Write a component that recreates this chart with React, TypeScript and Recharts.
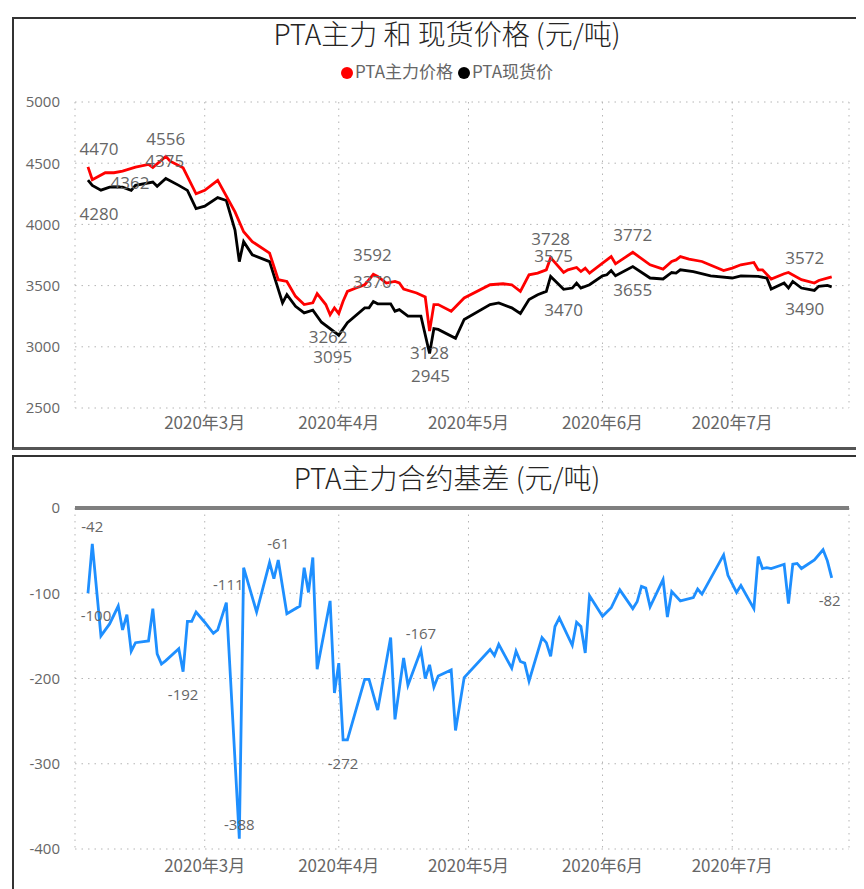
import { CartesianGrid, Line, LineChart, ReferenceLine, XAxis, YAxis } from 'recharts';

// day number counted from 2020-01-01 (= 0)
const MONTH_START: Record<number, number> = { 2: 31, 3: 60, 4: 91, 5: 121, 6: 152, 7: 182 };
const dayOf = (md: string) => {
  const [m, d] = md.split('-').map(Number);
  return MONTH_START[m] + d - 1;
};

const monthTickDates = ['3-01', '4-01', '5-01', '6-01', '7-01'];
const monthLabels = ['2020年3月', '2020年4月', '2020年5月', '2020年6月', '2020年7月'];
const priceTicks = [2500, 3000, 3500, 4000, 4500, 5000];
const basisTicks = [-400, -300, -200, -100, 0];

const futuresDates = [
  '2-03', '2-04', '2-07', '2-09', '2-11', '2-14', '2-17', '2-18', '2-21', '2-22', '2-25', '2-28',
  '3-01', '3-04', '3-08', '3-10', '3-12', '3-16', '3-18', '3-20', '3-22', '3-24', '3-26', '3-27',
  '3-29', '3-30', '3-31', '4-01', '4-02', '4-03', '4-05', '4-07', '4-08', '4-09', '4-10', '4-12',
  '4-14', '4-15', '4-16', '4-19', '4-21', '4-22', '4-23', '4-24', '4-27', '4-30', '5-06', '5-09',
  '5-11', '5-13', '5-15', '5-17', '5-19', '5-20', '5-23', '5-24', '5-26', '5-27', '5-28', '5-29',
  '6-01', '6-02', '6-03', '6-04', '6-08', '6-12', '6-15', '6-17', '6-18', '6-19', '6-21', '6-24',
  '6-29', '7-01', '7-03', '7-06', '7-07', '7-08', '7-10', '7-13', '7-14', '7-17', '7-20', '7-21',
  '7-24',
];
const futuresValues = [
  4470, 4365, 4422, 4422, 4435, 4468, 4490, 4465, 4556, 4516, 4462, 4250,
  4278, 4360, 4102, 3940, 3859, 3765, 3548, 3534, 3412, 3345, 3359, 3434,
  3345, 3262, 3318, 3272, 3372, 3453, 3480, 3507, 3548, 3592, 3575, 3521,
  3534, 3521, 3472, 3440, 3407, 3128, 3345, 3345, 3291, 3399, 3507, 3515,
  3507, 3453, 3588, 3602, 3629, 3728, 3607, 3629, 3648, 3615, 3643, 3602,
  3683, 3710, 3737, 3678, 3772, 3670, 3635, 3697, 3710, 3737, 3716, 3697,
  3623, 3643, 3670, 3689, 3629, 3629, 3554, 3597, 3607, 3548, 3521, 3542,
  3572,
];

const spotDates = [
  '2-03', '2-04', '2-06', '2-08', '2-11', '2-13', '2-14', '2-18', '2-19', '2-21', '2-24', '2-26',
  '2-28', '3-01', '3-04', '3-06', '3-08', '3-09', '3-10', '3-12', '3-16', '3-19', '3-20', '3-22',
  '3-24', '3-26', '3-28', '4-01', '4-03', '4-07', '4-08', '4-09', '4-10', '4-13', '4-14', '4-15',
  '4-17', '4-20', '4-22', '4-23', '4-24', '4-28', '4-30', '5-06', '5-08', '5-11', '5-13', '5-15',
  '5-17', '5-19', '5-20', '5-23', '5-25', '5-26', '5-27', '5-29', '6-01', '6-02', '6-03', '6-04',
  '6-08', '6-12', '6-15', '6-17', '6-18', '6-19', '6-22', '6-26', '7-01', '7-03', '7-07', '7-09',
  '7-10', '7-13', '7-14', '7-15', '7-17', '7-20', '7-21', '7-23', '7-24',
];
const spotValues = [
  4362, 4319, 4280, 4305, 4305, 4278, 4319, 4346, 4311, 4375, 4319, 4278,
  4130, 4149, 4219, 4195, 3954, 3696, 3859, 3751, 3696, 3359, 3426, 3331,
  3277, 3299, 3201, 3095, 3196, 3318, 3318, 3370, 3351, 3351, 3291, 3304,
  3250, 3250, 2945, 3148, 3142, 3069, 3223, 3345, 3359, 3318, 3272, 3386,
  3426, 3453, 3575, 3470, 3480, 3521, 3480, 3507, 3580, 3588, 3623, 3580,
  3655, 3562, 3554, 3607, 3602, 3629, 3615, 3580, 3562, 3580, 3575, 3562,
  3472, 3521, 3480, 3534, 3480, 3461, 3494, 3501, 3490,
];

const basisDates = [
  '2-03', '2-04', '2-06', '2-08', '2-10', '2-11', '2-12', '2-13', '2-14', '2-17', '2-18', '2-19',
  '2-20', '2-21', '2-24', '2-25', '2-26', '2-27', '2-28', '3-01', '3-03', '3-04', '3-06', '3-09',
  '3-10', '3-13', '3-16', '3-17', '3-18', '3-20', '3-23', '3-24', '3-25', '3-26', '3-27', '3-30',
  '3-31', '4-01', '4-02', '4-03', '4-07', '4-08', '4-10', '4-13', '4-14', '4-16', '4-17', '4-20',
  '4-21', '4-22', '4-23', '4-24', '4-27', '4-28', '4-30', '5-06', '5-07', '5-08', '5-11', '5-12',
  '5-13', '5-14', '5-15', '5-18', '5-19', '5-20', '5-21', '5-22', '5-25', '5-26', '5-27', '5-28',
  '5-29', '6-01', '6-03', '6-05', '6-08', '6-09', '6-10', '6-11', '6-12', '6-15', '6-16', '6-17',
  '6-19', '6-22', '6-23', '6-24', '6-29', '6-30', '7-02', '7-03', '7-06', '7-07', '7-08', '7-09',
  '7-10', '7-13', '7-14', '7-15', '7-16', '7-17', '7-20', '7-22', '7-23', '7-24',
];
const basisValues = [
  -100, -42, -150, -136, -115, -143, -125, -168, -158, -156, -118, -171,
  -183, -179, -165, -192, -133, -133, -122, -134, -147, -143, -111, -388,
  -70, -122, -64, -83, -61, -124, -115, -70, -99, -58, -189, -109,
  -217, -182, -272, -272, -201, -201, -237, -152, -248, -176, -208, -167,
  -200, -184, -210, -197, -190, -261, -199, -166, -173, -160, -188, -168,
  -180, -182, -203, -152, -158, -174, -139, -129, -161, -134, -139, -170,
  -103, -127, -117, -96, -118, -110, -92, -94, -116, -84, -128, -98,
  -109, -105, -95, -101, -55, -79, -99, -91, -118, -57, -71, -70,
  -71, -66, -112, -66, -65, -71, -61, -49, -62, -82,
];

// which points carry a value label, and where the label sits
const futuresMarks = [
  { date: '2-03', dx: 11, dy: -18 },
  { date: '2-21', dx: 0, dy: -18 },
  { date: '3-30', dx: -2, dy: 22 },
  { date: '4-09', dx: -1, dy: -20 },
  { date: '4-22', dx: 0, dy: 21 },
  { date: '5-20', dx: 0, dy: -19 },
  { date: '6-08', dx: 0, dy: -18 },
  { date: '7-24', dx: -27, dy: -19 },
];
const spotMarks = [
  { date: '2-03', dx: 42, dy: 2 },
  { date: '2-06', dx: -2, dy: 23 },
  { date: '2-21', dx: -1, dy: -18 },
  { date: '4-01', dx: -6, dy: 21 },
  { date: '4-09', dx: -1, dy: -20 },
  { date: '4-22', dx: 1, dy: 22 },
  { date: '5-20', dx: 3, dy: -21 },
  { date: '5-23', dx: 0, dy: 20 },
  { date: '6-08', dx: 0, dy: 23 },
  { date: '7-24', dx: -27, dy: 22 },
];
const basisMarks = [
  { date: '2-03', dx: 8, dy: 22 },
  { date: '2-04', dx: 0, dy: -18 },
  { date: '2-25', dx: 0, dy: 22 },
  { date: '3-06', dx: 2, dy: -19 },
  { date: '3-09', dx: 0, dy: -15 },
  { date: '3-18', dx: 0, dy: -17 },
  { date: '4-02', dx: 0, dy: 23 },
  { date: '4-20', dx: 0, dy: -17 },
  { date: '7-24', dx: -2, dy: 22 },
];

const toRows = (dates: string[], values: number[]) =>
  dates.map((d, i) => ({ day: dayOf(d), value: values[i] }));

const futuresData = toRows(futuresDates, futuresValues);
const spotData = toRows(spotDates, spotValues);
const basisData = toRows(basisDates, basisValues);
const monthTicks = monthTickDates.map(dayOf);

const FONT = "'Open Sans', 'Noto Sans CJK SC', sans-serif";
const CJK = "'Noto Sans CJK SC', sans-serif";
const GREY = '#666';

const monthFormatter = (v: number) => monthLabels[monthTicks.indexOf(v)] ?? '';

function markRenderer(marks: { date: string; dx: number; dy: number }[], size: number) {
  const lookup = new Map(marks.map((m) => [dayOf(m.date), m]));
  return (props: any) => {
    const { cx, cy, payload, index } = props;
    const m = payload ? lookup.get(payload.day) : undefined;
    if (!m || cx == null || cy == null) return <g key={`m-${index}`} />;
    return (
      <text
        key={`m-${index}`}
        x={cx + m.dx}
        y={cy + m.dy}
        textAnchor="middle"
        dominantBaseline="central"
        fontSize={size}
        fontFamily={FONT}
        fill={GREY}
      >
        {payload.value}
      </text>
    );
  };
}

const axisTick = { fontSize: 17, fill: GREY, fontFamily: CJK };
const valueTick = { fontSize: 15, fill: GREY, fontFamily: FONT };

const dot = (color: string, ml: number) => (
  <span
    style={{
      display: 'inline-block', width: 12, height: 12, borderRadius: 6, background: color,
      margin: `0 2px 0 ${ml}px`, verticalAlign: -1,
    }}
  />
);

export default function App() {
  return (
    <div style={{ position: 'relative', width: 856, height: 881, overflow: 'hidden', background: '#fff' }}>
      {/* top panel */}
      <div
        style={{
          position: 'absolute', left: 4, top: 9, width: 870, height: 428,
          borderTop: '2px solid #333', borderLeft: '2px solid #333', borderBottom: '3px solid #555',
        }}
      />
      <div
        style={{
          position: 'absolute', left: 20, top: 7, width: 838, textAlign: 'center',
          fontFamily: CJK, fontSize: 28, fontWeight: 300, color: '#252423', lineHeight: '36px',
        }}
      >
        PTA主力 和 现货价格 (元/吨)
      </div>
      <div
        style={{
          position: 'absolute', left: 20, top: 52, width: 838, textAlign: 'center',
          fontFamily: CJK, fontSize: 17, color: GREY, lineHeight: '22px',
        }}
      >
        {dot('#ff0000', 0)}PTA主力价格{dot('#000', 5)}PTA现货价
      </div>
      <div style={{ position: 'absolute', left: 0, top: 0 }}>
        <LineChart width={856} height={440} margin={{ top: 94, right: 15, bottom: 10, left: 17 }}>
          <CartesianGrid stroke="#b5b5b5" strokeDasharray="1.5 5" />
          <XAxis
            dataKey="day"
            type="number"
            domain={[30, 209]}
            ticks={monthTicks}
            tickFormatter={monthFormatter}
            axisLine={false}
            tickLine={false}
            tick={axisTick}
            tickMargin={3}
            height={30}
            allowDataOverflow
          />
          <YAxis
            type="number"
            domain={[2500, 5000]}
            ticks={priceTicks}
            axisLine={false}
            tickLine={false}
            tick={valueTick}
            tickMargin={9}
            width={50}
            allowDataOverflow
          />
          <Line
            data={spotData}
            dataKey="value"
            name="PTA现货价"
            stroke="#000"
            strokeWidth={2.8}
            dot={markRenderer(spotMarks, 17)}
            activeDot={false}
            isAnimationActive={false}
          />
          <Line
            data={futuresData}
            dataKey="value"
            name="PTA主力价格"
            stroke="#ff0000"
            strokeWidth={2.8}
            dot={markRenderer(futuresMarks, 17)}
            activeDot={false}
            isAnimationActive={false}
          />
        </LineChart>
      </div>

      {/* bottom panel */}
      <div
        style={{
          position: 'absolute', left: 4, top: 447, width: 870, height: 460,
          borderTop: '2px solid #333', borderLeft: '2px solid #333',
        }}
      />
      <div
        style={{
          position: 'absolute', left: 20, top: 451, width: 838, textAlign: 'center',
          fontFamily: CJK, fontSize: 28, fontWeight: 300, color: '#252423', lineHeight: '36px',
        }}
      >
        PTA主力合约基差 (元/吨)
      </div>
      <div style={{ position: 'absolute', left: 0, top: 440 }}>
        <LineChart width={856} height={441} margin={{ top: 60, right: 15, bottom: 10, left: 17 }}>
          <CartesianGrid stroke="#b5b5b5" strokeDasharray="1.5 5" />
          <XAxis
            dataKey="day"
            type="number"
            domain={[30, 209]}
            ticks={monthTicks}
            tickFormatter={monthFormatter}
            axisLine={false}
            tickLine={false}
            tick={axisTick}
            tickMargin={5}
            height={30}
            allowDataOverflow
          />
          <YAxis
            type="number"
            domain={[-400, 0]}
            ticks={basisTicks}
            axisLine={false}
            tickLine={false}
            tick={valueTick}
            tickMargin={9}
            width={50}
            allowDataOverflow
          />
          <ReferenceLine y={0} stroke="#7f7f7f" strokeWidth={4} />
          <Line
            data={basisData}
            dataKey="value"
            name="基差"
            stroke="#1e8fff"
            strokeWidth={2.8}
            dot={markRenderer(basisMarks, 15)}
            activeDot={false}
            isAnimationActive={false}
          />
        </LineChart>
      </div>
    </div>
  );
}
